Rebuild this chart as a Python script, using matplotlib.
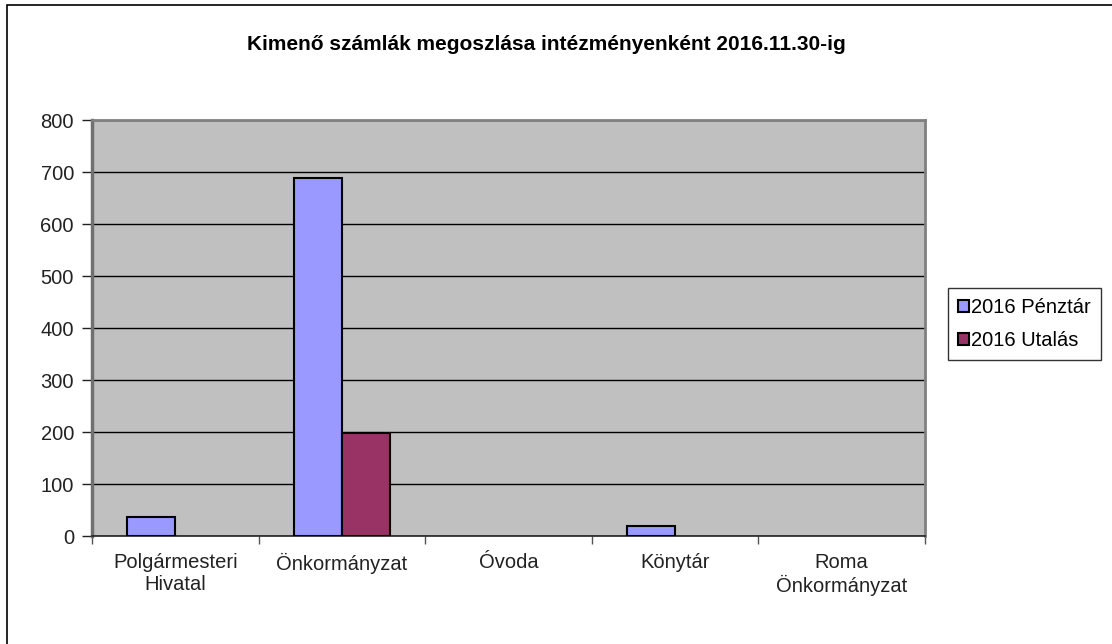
import numpy as np
import matplotlib.pyplot as plt
from matplotlib.patches import Rectangle

plt.rcParams['font.family'] = ['Liberation Sans', 'DejaVu Sans']

categories = ['Polgármesteri\nHivatal', 'Önkormányzat', 'Óvoda', 'Könytár', 'Roma\nÖnkormányzat']
penztar = [37, 688, 0, 20, 0]
utalas = [0, 198, 0, 0, 0]
series_names = ['2016 Pénztár', '2016 Utalás']

W, H = 1112, 644
fig = plt.figure(figsize=(W / 100, H / 100), dpi=100)

# outer chart frame (only top/left visible in the reference)
fig.patches.append(Rectangle((7 / W, -0.05), 1.2, (H - 5) / H + 0.05, transform=fig.transFigure,
                             fill=False, edgecolor='black', linewidth=1.2))

# plot area in pixels
left, right, top, bottom = 92, 925, 120, 536
ax = fig.add_axes([left / W, 1 - bottom / H, (right - left) / W, (bottom - top) / H])
ax.set_facecolor('#C0C0C0')

x = np.arange(len(categories))
bw = 0.29
# zero-height bars get no outline, as in the original
ax.bar(x - bw / 2, penztar, bw, color='#9999FF', edgecolor='black',
       linewidth=[1.5 if v else 0 for v in penztar], label=series_names[0], zorder=3)
ax.bar(x + bw / 2, utalas, bw, color='#993366', edgecolor='black',
       linewidth=[1.5 if v else 0 for v in utalas], label=series_names[1], zorder=3)

ax.set_xlim(-0.5, len(categories) - 0.5)
ax.set_ylim(0, 800)
ax.set_yticks(range(0, 801, 100))
ax.yaxis.grid(True, color='black', linewidth=1.0, zorder=1)
ax.set_axisbelow(True)

ax.set_xticks(np.arange(len(categories) + 1) - 0.5, minor=False)
ax.set_xticklabels([])
ax.set_xticks(x, minor=True)
ax.set_xticklabels(categories, minor=True, fontsize=14.5, color='#222222', linespacing=1.2)
ax.tick_params(axis='x', which='major', length=6, color='#555555', width=1)
ax.tick_params(axis='x', which='minor', length=0, pad=12)
ax.tick_params(axis='y', length=7, color='#222222', width=1, labelsize=14.5, pad=6,
               labelcolor='#222222')

for s in ['top', 'right']:
    ax.spines[s].set_color('#808080')
    ax.spines[s].set_linewidth(2)
ax.spines['left'].set_color('#707070')
ax.spines['left'].set_linewidth(2.5)
ax.spines['bottom'].set_color('#222222')
ax.spines['bottom'].set_linewidth(1.2)

fig.text(546 / W, 1 - 44 / H, 'Kimenő számlák megoszlása intézményenként 2016.11.30-ig',
         ha='center', va='center', fontsize=15, fontweight='bold')

leg = fig.legend(loc='upper left', bbox_to_anchor=(948 / W, 1 - 288 / H), fontsize=14.5,
                 frameon=True, fancybox=False, edgecolor='black', handlelength=0.55,
                 handleheight=0.55, handletextpad=0.1, labelspacing=0.7, borderpad=0.5,
                 borderaxespad=0)
leg.get_frame().set_linewidth(1.0)
for h in leg.legend_handles:
    h.set_linewidth(1.5)
    h.set_edgecolor('black')

fig.savefig('out.png', dpi=100)
